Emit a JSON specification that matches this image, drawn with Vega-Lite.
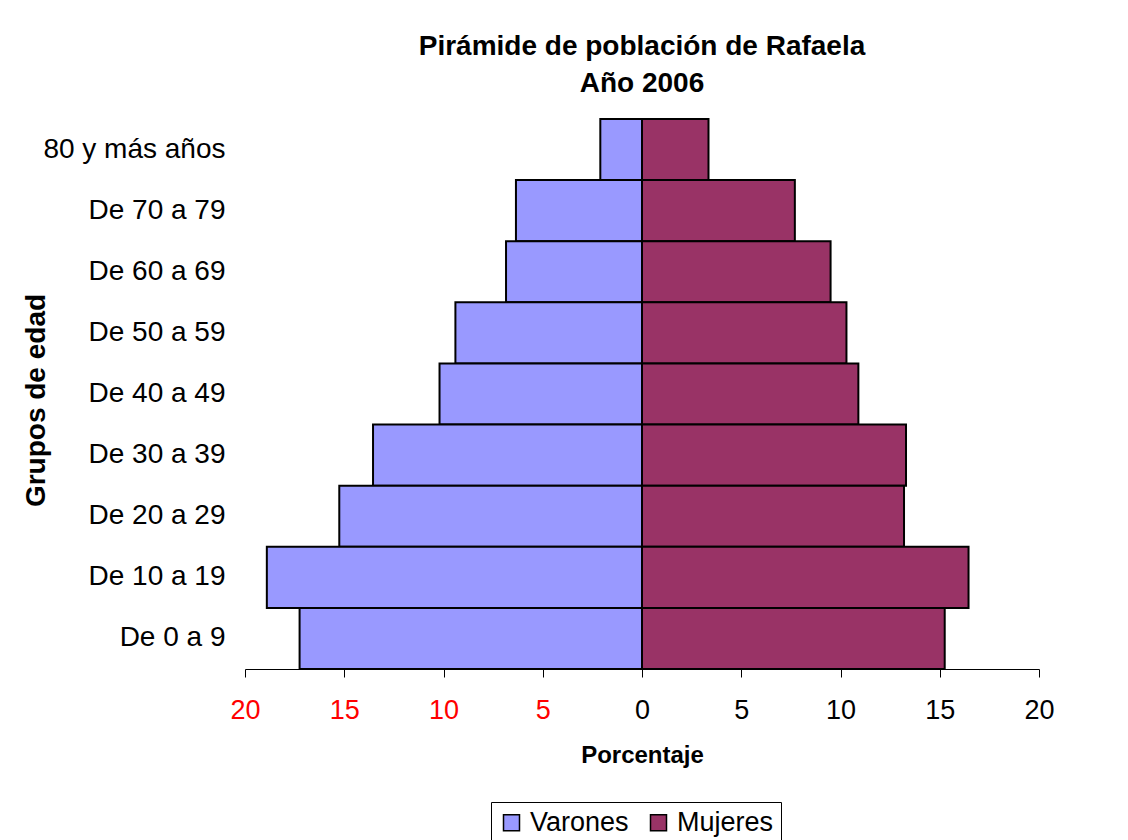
{
  "$schema": "https://vega.github.io/schema/vega-lite/v6.json",
  "autosize": {"type": "none"},
  "width": 794,
  "height": 550,
  "padding": {"left": 245, "top": 119, "right": 89, "bottom": 171},
  "background": "white",
  "title": {
    "text": ["Pirámide de población de Rafaela", "Año 2006"],
    "anchor": "middle",
    "frame": "group",
    "font": "Liberation Sans",
    "fontSize": 28,
    "fontWeight": "bold",
    "lineHeight": 37,
    "color": "black",
    "baseline": "bottom",
    "offset": -8
  },
  "data": {
    "values": [
      {"grupo": "80 y más años", "sexo": "Varones", "porcentaje": -2.1},
      {"grupo": "80 y más años", "sexo": "Mujeres", "porcentaje": 3.35},
      {"grupo": "De 70 a 79", "sexo": "Varones", "porcentaje": -6.35},
      {"grupo": "De 70 a 79", "sexo": "Mujeres", "porcentaje": 7.7},
      {"grupo": "De 60 a 69", "sexo": "Varones", "porcentaje": -6.85},
      {"grupo": "De 60 a 69", "sexo": "Mujeres", "porcentaje": 9.5},
      {"grupo": "De 50 a 59", "sexo": "Varones", "porcentaje": -9.4},
      {"grupo": "De 50 a 59", "sexo": "Mujeres", "porcentaje": 10.3},
      {"grupo": "De 40 a 49", "sexo": "Varones", "porcentaje": -10.2},
      {"grupo": "De 40 a 49", "sexo": "Mujeres", "porcentaje": 10.9},
      {"grupo": "De 30 a 39", "sexo": "Varones", "porcentaje": -13.55},
      {"grupo": "De 30 a 39", "sexo": "Mujeres", "porcentaje": 13.3},
      {"grupo": "De 20 a 29", "sexo": "Varones", "porcentaje": -15.25},
      {"grupo": "De 20 a 29", "sexo": "Mujeres", "porcentaje": 13.2},
      {"grupo": "De 10 a 19", "sexo": "Varones", "porcentaje": -18.9},
      {"grupo": "De 10 a 19", "sexo": "Mujeres", "porcentaje": 16.45},
      {"grupo": "De 0 a 9", "sexo": "Varones", "porcentaje": -17.25},
      {"grupo": "De 0 a 9", "sexo": "Mujeres", "porcentaje": 15.25}
    ]
  },
  "mark": {"type": "bar", "stroke": "black", "strokeWidth": 2},
  "encoding": {
    "y": {
      "field": "grupo",
      "type": "nominal",
      "sort": ["80 y más años", "De 70 a 79", "De 60 a 69", "De 50 a 59", "De 40 a 49", "De 30 a 39", "De 20 a 29", "De 10 a 19", "De 0 a 9"],
      "scale": {"paddingInner": 0, "paddingOuter": 0},
      "axis": {
        "title": "Grupos de edad",
        "titleFont": "Liberation Sans",
        "titleFontSize": 28,
        "titleFontWeight": "bold",
        "titleColor": "black",
        "titlePadding": -5,
        "titleY": 281,
        "domain": false,
        "ticks": false,
        "grid": false,
        "labelFont": "Liberation Sans",
        "labelFontSize": 28,
        "labelColor": "black",
        "labelPadding": 20,
        "labelLimit": 400
      }
    },
    "x": {
      "field": "porcentaje",
      "type": "quantitative",
      "stack": null,
      "scale": {"domain": [-20, 20], "nice": false, "zero": false},
      "axis": {
        "title": "Porcentaje",
        "titleFont": "Liberation Sans",
        "titleFontSize": 24,
        "titleFontWeight": "bold",
        "titleColor": "black",
        "titlePadding": 20,
        "values": [-20, -15, -10, -5, 0, 5, 10, 15, 20],
        "labelExpr": "abs(datum.value)",
        "labelFont": "Liberation Sans",
        "labelFontSize": 27,
        "labelColor": {"condition": {"test": "datum.value < 0", "value": "#ff0000"}, "value": "black"},
        "labelPadding": 20,
        "labelFlush": false,
        "labelOverlap": false,
        "domainColor": "black",
        "domainWidth": 1,
        "tickColor": "black",
        "tickSize": 8,
        "tickWidth": 1,
        "grid": false
      }
    },
    "color": {
      "field": "sexo",
      "type": "nominal",
      "scale": {"domain": ["Varones", "Mujeres"], "range": ["#9999FF", "#993366"]},
      "legend": {
        "title": null,
        "orient": "none",
        "legendX": 246,
        "legendY": 683,
        "direction": "horizontal",
        "strokeColor": "black",
        "fillColor": "white",
        "padding": 7,
        "labelFont": "Liberation Sans",
        "labelFontSize": 27,
        "labelColor": "black",
        "labelOffset": 5,
        "symbolType": "square",
        "symbolSize": 256,
        "symbolStrokeColor": "black",
        "symbolStrokeWidth": 1.5,
        "symbolOpacity": 1,
        "columnPadding": 16
      }
    }
  },
  "config": {
    "view": {"stroke": null},
    "font": "Liberation Sans"
  }
}
